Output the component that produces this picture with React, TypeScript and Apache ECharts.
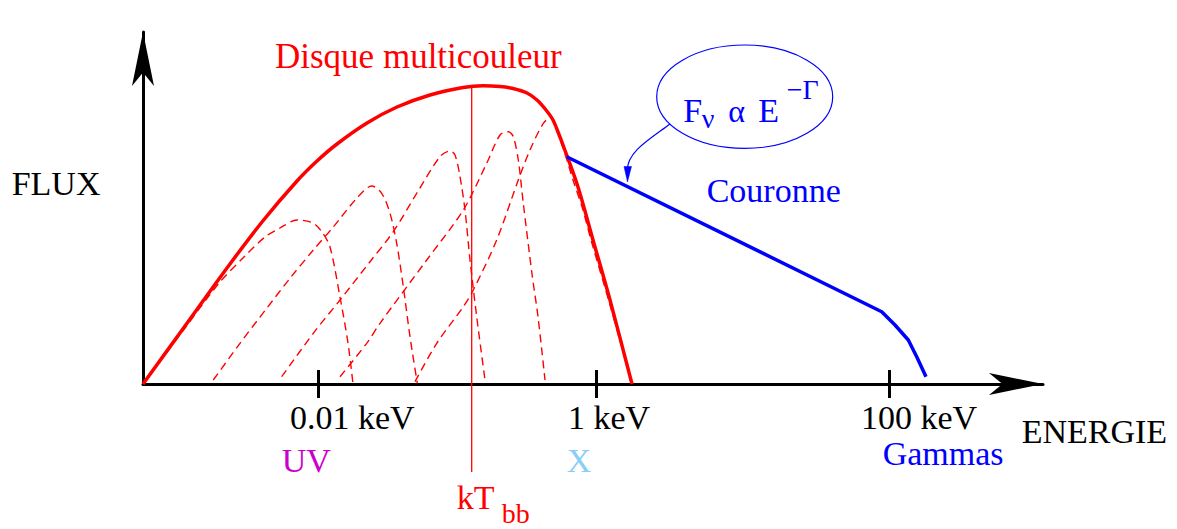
import React, { useEffect, useRef } from "react";
import * as echarts from "echarts";

// Schematic axis units: x = position along the energy axis, y = flux (arbitrary units)
const tickValues = [17.5, 45.3, 74.6];
const tickLabels = ["0.01 keV", "1 keV", "100 keV"];

// Multicolour disc (sum of blackbodies)
const diskCurve: [number, number][] = [
  [0, 0], [4.2, 5.8], [8.4, 11.6], [11.9, 16.2], [15.4, 20.3], [17.4, 22.3],
  [19.4, 24.0], [22.4, 26.1], [25.4, 27.7], [28.7, 28.9], [32.0, 29.65], [34.0, 29.83],
  [35.7, 29.75], [37.0, 29.55], [38.4, 29.1], [39.4, 28.4], [40.3, 27.4], [41.0, 26.4],
  [41.5, 25.2], [42.0, 23.9], [43.5, 19.7], [45.0, 14.4], [46.7, 8.4], [48.9, 0],
];

// Individual blackbody components (dashed)
const bb1: [number, number][] = [
  [0, 0], [4.2, 5.6], [7.7, 10.2], [10.2, 12.8], [12.2, 14.7], [13.7, 15.6],
  [15.4, 16.4], [17.0, 16.1], [17.9, 15.2], [18.7, 13.7], [19.7, 8.7], [20.5, 4.1], [21.0, 0],
];
const bb2: [number, number][] = [
  [7.03, 0.4], [9.7, 4.07], [12.37, 7.57], [14.7, 10.57], [17.03, 13.4], [19.03, 15.7],
  [21.37, 18.57], [22.87, 19.8], [23.87, 19.07], [24.7, 17.07], [25.37, 14.07],
  [26.03, 9.73], [26.7, 4.73], [27.43, 0.07],
];
const bb3: [number, number][] = [
  [13.87, 0.73], [17.03, 5.07], [19.7, 8.4], [22.7, 12.23], [25.03, 15.23], [27.37, 19.07],
  [29.7, 22.73], [30.7, 23.3], [31.2, 22.9], [31.7, 20.73], [32.2, 17.4], [32.7, 12.4],
  [33.37, 6.73], [34.2, 0.4],
];
const bb4: [number, number][] = [
  [19.7, 0.73], [22.37, 4.07], [23.7, 6.07], [28.37, 12.4], [32.03, 17.4], [34.37, 22.07],
  [35.7, 24.9], [36.53, 25.23], [37.03, 24.73], [37.53, 22.4], [38.03, 18.07],
  [38.9, 11.0], [39.5, 6.73], [40.2, 0.4],
];
const bb5: [number, number][] = [
  [27.2, 0.23], [29.37, 4.07], [32.03, 7.73], [33.03, 9.4], [35.37, 14.4], [37.53, 20.4],
  [38.7, 23.4], [40.03, 26.07], [40.7, 26.6], [42.0, 23.6], [43.0, 20.4], [44.0, 17.4],
  [44.8, 14.4], [46.7, 7.9], [48.87, 0.1],
];

// Corona power law with high-energy cutoff
const corona: [number, number][] = [
  [42.37, 22.73], [73.87, 7.23], [75.2, 5.9], [76.53, 4.4], [77.37, 2.73], [78.3, 0.73],
];

// kT_bb marker
const kTLine: [number, number][] = [[32.87, 29.8], [32.87, -8.8]];

const SERIF = "'Liberation Serif', 'Times New Roman', Times, serif";

function label(text: string, x: number, baseline: number, size: number, color: string) {
  const y = baseline - 0.3375 * size;
  return {
    type: "text",
    x: 0,
    y: 0,
    silent: true,
    style: {
      text,
      x,
      y,
      fill: color,
      font: `${size}px ${SERIF}`,
      fontSize: size,
      fontFamily: SERIF,
      align: "left",
      verticalAlign: "middle",
      textAlign: "left",
      textVerticalAlign: "middle",
    },
  };
}

export default function App() {
  const ref = useRef<HTMLDivElement>(null);

  useEffect(() => {
    document.body.style.margin = "0";
    if (!ref.current) return;
    const chart = echarts.init(ref.current, undefined, { renderer: "svg" });

    const dashed = (data: [number, number][], name: string) => ({
      type: "line",
      name,
      data,
      symbol: "none",
      smooth: 0.3,
      lineStyle: { color: "#ff0000", width: 1.4, type: [8, 5] },
      z: 2,
    });

    const option: any = {
      animation: false,
      backgroundColor: "#ffffff",
      grid: { left: 143, top: 32, width: 900, height: 352, containLabel: false },
      xAxis: [
        {
          type: "value",
          min: 0,
          max: 90,
          position: "bottom",
          axisLine: {
            show: true,
            onZero: false,
            symbol: ["none", "arrow"],
            symbolSize: [16.5, 54],
            lineStyle: { color: "#000000", width: 3 },
          },
          axisTick: {
            show: true,
            length: 14,
            customValues: tickValues,
            lineStyle: { color: "#000000", width: 3 },
          },
          axisLabel: {
            show: true,
            customValues: tickValues,
            formatter: (v: number) => {
              let best = 0;
              for (let i = 1; i < tickValues.length; i++) {
                if (Math.abs(tickValues[i] - v) < Math.abs(tickValues[best] - v)) best = i;
              }
              return tickLabels[best];
            },
            align: "left",
            padding: [0, 0, 0, -28],
            margin: 16,
            color: "#000000",
            fontSize: 34,
            fontFamily: SERIF,
          },
          splitLine: { show: false },
        },
        {
          type: "value",
          min: 0,
          max: 90,
          position: "bottom",
          axisLine: { show: false, onZero: false },
          axisTick: {
            show: true,
            inside: true,
            length: 14,
            customValues: tickValues,
            lineStyle: { color: "#000000", width: 3 },
          },
          axisLabel: { show: false },
          splitLine: { show: false },
        },
      ],
      yAxis: {
        type: "value",
        min: 0,
        max: 35.2,
        axisLine: {
          show: true,
          symbol: ["none", "arrow"],
          symbolSize: [16.5, 54],
          lineStyle: { color: "#000000", width: 3 },
        },
        axisTick: { show: false },
        axisLabel: { show: false },
        splitLine: { show: false },
      },
      series: [
        dashed(bb1, "bb1"),
        dashed(bb2, "bb2"),
        dashed(bb3, "bb3"),
        dashed(bb4, "bb4"),
        dashed(bb5, "bb5"),
        {
          type: "line",
          name: "kT",
          data: kTLine,
          symbol: "none",
          clip: false,
          lineStyle: { color: "#ff0000", width: 1.3 },
          z: 3,
        },
        {
          type: "line",
          name: "Disque multicouleur",
          data: diskCurve,
          symbol: "none",
          smooth: 0.3,
          lineStyle: { color: "#ff0000", width: 3.5 },
          z: 4,
        },
        {
          type: "line",
          name: "Couronne",
          data: corona,
          symbol: "none",
          lineStyle: { color: "#0000ff", width: 3.5 },
          z: 5,
        },
      ],
      graphic: [
        label("FLUX", 11.7, 195, 34, "#000000"),
        label("ENERGIE", 1021.7, 442.7, 34, "#000000"),
        label("Disque multicouleur", 275, 68.3, 35, "#ff0000"),
        label("Couronne", 706.7, 201.7, 34, "#0000ff"),
        label("Gammas", 882.7, 465, 34, "#0000ff"),
        label("UV", 281.7, 471.7, 34, "#cc00cc"),
        label("X", 566.7, 471.7, 34, "#87cefa"),
        label("kT", 456.7, 509.3, 34, "#ff0000"),
        label("bb", 501.7, 523.3, 28, "#ff0000"),
        label("F", 683.3, 121.7, 34, "#0000ff"),
        label("ν", 701.7, 128.3, 28, "#0000ff"),
        label("α", 728.3, 121.7, 32, "#0000ff"),
        label("E", 758.3, 121.7, 34, "#0000ff"),
        label("−Γ", 786.7, 99.3, 28, "#0000ff"),
        {
          type: "ellipse",
          silent: true,
          shape: { cx: 744.7, cy: 96.7, rx: 88, ry: 51.7 },
          style: { fill: "none", stroke: "#0000ff", lineWidth: 1.2 },
        },
        {
          type: "bezierCurve",
          silent: true,
          shape: { x1: 670, y1: 124, cpx1: 650, cpy1: 139, cpx2: 627, cpy2: 152, x2: 627.5, y2: 170 },
          style: { fill: "none", stroke: "#0000ff", lineWidth: 1.2 },
        },
        {
          type: "polygon",
          silent: true,
          shape: { points: [[624, 166.5], [631.5, 166.5], [627.5, 182]] },
          style: { fill: "#0000ff", stroke: "#0000ff", lineWidth: 0.5 },
        },
      ],
    };

    chart.setOption(option);
    return () => chart.dispose();
  }, []);

  return (
    <div
      ref={ref}
      style={{ position: "fixed", left: 0, top: 0, width: 1177, height: 529, background: "#fff" }}
    />
  );
}
